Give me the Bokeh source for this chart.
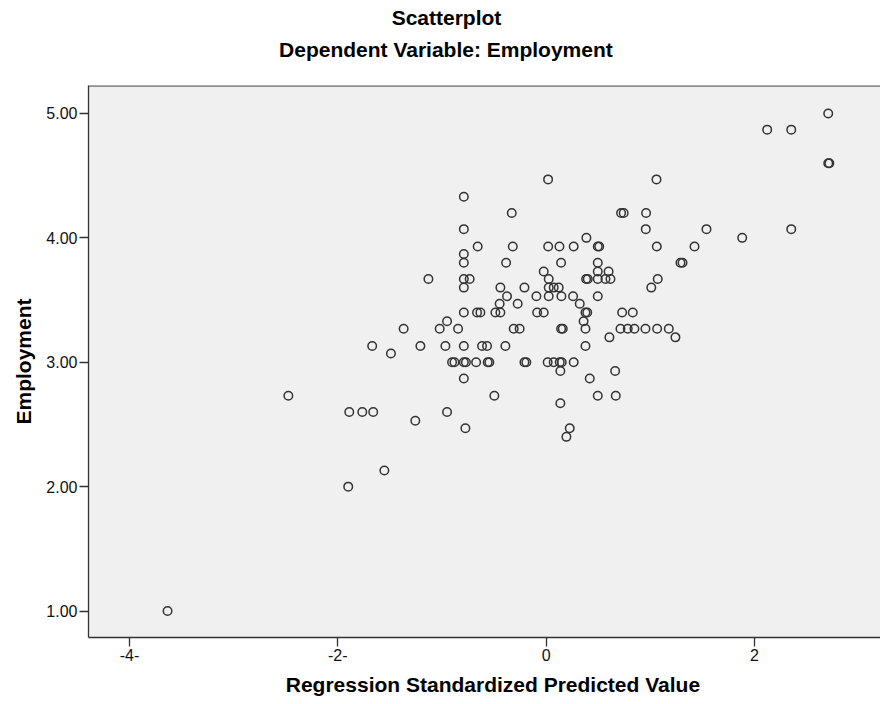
from bokeh.plotting import figure
from bokeh.models import Range1d, FixedTicker, Span, Title
from bokeh.embed import file_html
from bokeh.resources import INLINE

# Regression standardized predicted value (x) and Employment (y)
pred = [-3.635, -2.475, -1.89, -1.765, -1.66, -1.90, -1.553, -1.67, -1.49, -1.368,
        -1.256, -1.207, -1.13, -1.022, -0.967, -0.951, -0.951, -0.903, -0.88, -0.845,
        -0.79, -0.79, -0.79, -0.79, -0.79, -0.734, -0.79, -0.79, -0.79, -0.79,
        -0.77, -0.79, -0.775, -0.672, -0.663, -0.631, -0.657, -0.615, -0.567, -0.561,
        -0.545, -0.497, -0.487, -0.446, -0.439, -0.439, -0.391, -0.384, -0.375, -0.33,
        -0.32, -0.311, -0.273, -0.254, -0.208, -0.208, -0.19, -0.093, -0.086, -0.023,
        -0.023, 0.019, 0.02, 0.025, 0.025, 0.025, 0.015, 0.073, 0.073, 0.128,
        0.121, 0.144, 0.147, 0.131, 0.15, 0.137, 0.144, 0.16, 0.137, 0.227,
        0.195, 0.259, 0.265, 0.265, 0.323, 0.378, 0.395, 0.36, 0.378, 0.378,
        0.387, 0.384, 0.40, 0.419, 0.496, 0.51, 0.496, 0.496, 0.496, 0.496,
        0.496, 0.57, 0.60, 0.608, 0.618, 0.663, 0.669, 0.714, 0.72, 0.745,
        0.73, 0.784, 0.832, 0.848, 0.954, 0.957, 0.96, 1.01, 1.063, 1.06,
        1.066, 1.072, 1.178, 1.242, 1.29, 1.31, 1.425, 1.54, 1.883, 2.123,
        2.354, 2.354, 2.709, 2.709, 2.72]
employment = [1.00, 2.73, 2.60, 2.60, 2.60, 2.00, 2.13, 3.13, 3.07, 3.27,
              2.53, 3.13, 3.67, 3.27, 3.13, 3.33, 2.60, 3.00, 3.00, 3.27,
              4.33, 4.07, 3.87, 3.80, 3.67, 3.67, 3.60, 3.40, 3.13, 3.00,
              3.00, 2.87, 2.47, 3.00, 3.40, 3.40, 3.93, 3.13, 3.13, 3.00,
              3.00, 2.73, 3.40, 3.47, 3.60, 3.40, 3.13, 3.80, 3.53, 4.20,
              3.93, 3.27, 3.47, 3.27, 3.60, 3.00, 3.00, 3.53, 3.40, 3.40,
              3.73, 4.47, 3.93, 3.67, 3.60, 3.53, 3.00, 3.60, 3.00, 3.93,
              3.60, 3.80, 3.53, 3.00, 3.00, 2.93, 3.27, 3.27, 2.67, 2.47,
              2.40, 3.53, 3.93, 3.00, 3.47, 3.40, 3.40, 3.33, 3.27, 3.13,
              4.00, 3.67, 3.67, 2.87, 3.93, 3.93, 3.80, 3.73, 3.67, 3.53,
              2.73, 3.67, 3.73, 3.20, 3.67, 2.93, 2.73, 3.27, 4.20, 4.20,
              3.40, 3.27, 3.40, 3.27, 3.27, 4.07, 4.20, 3.60, 3.93, 4.47,
              3.27, 3.67, 3.27, 3.20, 3.80, 3.80, 3.93, 4.07, 4.00, 4.87,
              4.87, 4.07, 5.00, 4.60, 4.60]

x_ticks = [-4, -2, 0, 2]
x_tick_labels = ["-4-", "-2-", "0", "2"]
y_ticks = [1, 2, 3, 4, 5]
y_tick_labels = ["1.00", "2.00", "3.00", "4.00", "5.00"]

title_text = "Scatterplot"
subtitle_text = "Dependent Variable: Employment"
x_label = "Regression Standardized Predicted Value"
y_label = "Employment"

FONT = "Liberation Sans"
BIG = 21          # px, bold texts
X0, X1 = -4.394, 3.211
Y0, Y1 = 0.787, 5.225
FRAME_LEFT = 88

p = figure(width=880, height=696, output_backend="svg", toolbar_location=None,
           x_range=Range1d(X0, X1), y_range=Range1d(Y0, Y1),
           min_border_left=FRAME_LEFT, min_border_right=0, min_border_top=85,
           min_border_bottom=59)
p.background_fill_color = "#F0F0F0"
p.border_fill_color = "white"
p.outline_line_color = None
p.grid.visible = False

p.xaxis.ticker = FixedTicker(ticks=x_ticks)
p.xaxis.major_label_overrides = dict(zip(x_ticks, x_tick_labels))
p.yaxis.ticker = FixedTicker(ticks=y_ticks)
p.yaxis.major_label_overrides = dict(zip(y_ticks, y_tick_labels))
for ax in (p.xaxis, p.yaxis):
    ax.minor_tick_line_color = None
    ax.major_tick_in = 0
    ax.major_tick_out = 9
    ax.axis_line_color = "#333333"
    ax.axis_line_width = 1.3
    ax.major_tick_line_color = "#333333"
    ax.major_tick_line_width = 1.3
    ax.major_label_text_font = FONT
    ax.major_label_text_font_size = "16px"
    ax.major_label_text_color = "#111111"
    ax.major_label_standoff = 2
    ax.axis_label_text_font = FONT
    ax.axis_label_text_font_style = "bold"
    ax.axis_label_text_font_size = f"{BIG}px"
    ax.axis_label_text_color = "#000000"

p.yaxis.axis_label = y_label
p.yaxis.axis_label_standoff = 8


def text_width(s, size):
    # Arial/Liberation Sans Bold advance widths (per 1000 em), approximate
    w = {"S": 667, "c": 556, "a": 556, "t": 333, "e": 556, "r": 389, "p": 611,
         "l": 278, "o": 611, "D": 722, "n": 611, "d": 611, " ": 278, "V": 667,
         "i": 278, "b": 611, ":": 333, "E": 667, "m": 889, "y": 556, "R": 722,
         "g": 611, "s": 556, "z": 500, "P": 667, "u": 611}
    return sum(w.get(ch, 600) for ch in s) / 1000 * size


def centered_offset(s, center_px):
    return center_px - FRAME_LEFT - text_width(s, BIG) / 2


TITLE_CENTER = 446
XLABEL_CENTER = 493

# below the x axis: small spacer, then the x axis title
p.add_layout(Title(text=" ", text_font_size="2px", standoff=3), "below")
p.add_layout(Title(text=x_label, align="left", offset=centered_offset(x_label, XLABEL_CENTER),
                   vertical_align="bottom", standoff=0, text_font=FONT,
                   text_font_style="bold", text_font_size=f"{BIG}px",
                   text_color="#000000"), "below")

# titles above the frame: spacer, subtitle, title (inner to outer)
p.add_layout(Title(text=" ", text_font_size="10px", standoff=7), "above")
p.add_layout(Title(text=subtitle_text, align="left", offset=centered_offset(subtitle_text, TITLE_CENTER),
                   vertical_align="middle", standoff=7, text_font=FONT,
                   text_font_style="bold", text_font_size=f"{BIG}px",
                   text_color="#000000"), "above")
p.add_layout(Title(text=title_text, align="left", offset=centered_offset(title_text, TITLE_CENTER),
                   vertical_align="middle", standoff=7, text_font=FONT,
                   text_font_style="bold", text_font_size=f"{BIG}px",
                   text_color="#000000"), "above")

# top frame edge
p.add_layout(Span(location=Y1 - 0.003, dimension="width", line_color="#333333", line_width=1.3))

p.scatter(pred, employment, marker="circle", size=8.5, fill_color=None,
          line_color="#333333", line_width=1.5)

open("out.html", "w").write(file_html(p, INLINE))
